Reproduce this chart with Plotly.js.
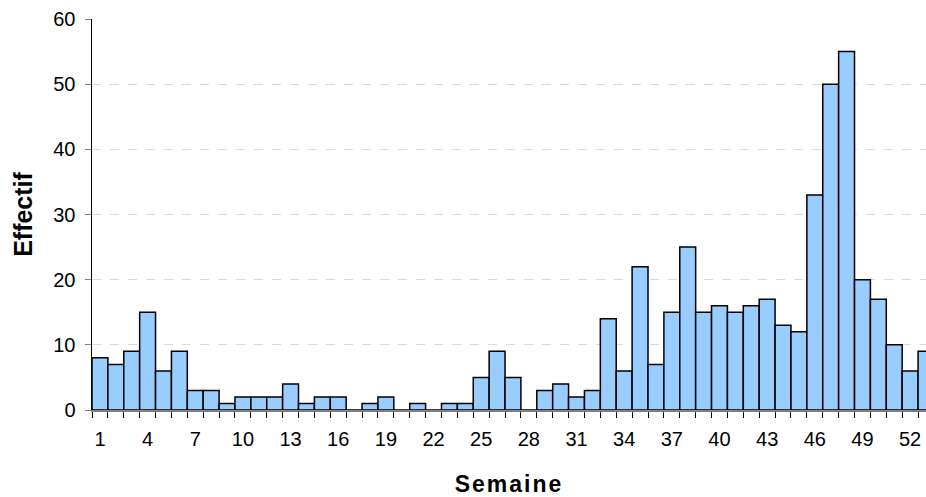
<!DOCTYPE html>
<html>
<head>
<meta charset="utf-8">
<script src="https://cdn.plot.ly/plotly-3.0.1.min.js"></script>
<style>
html,body{margin:0;padding:0;background:#fff;}
#chart{width:926px;height:497px;}
#chart .xtitle{letter-spacing:2px;}
</style>
</head>
<body>
<div id="chart"></div>
<script>
const semaines = [1,2,3,4,5,6,7,8,9,10,11,12,13,14,15,16,17,18,19,20,21,22,23,24,25,26,27,28,29,30,31,32,33,34,35,36,37,38,39,40,41,42,43,44,45,46,47,48,49,50,51,52,53];
const effectif = [8,7,9,15,6,9,3,3,1,2,2,2,4,1,2,2,0,1,2,0,1,0,1,1,5,9,5,0,3,4,2,3,14,6,22,7,15,25,15,16,15,16,17,13,12,33,50,55,20,17,10,6,9];
const xTickVals = [1,4,7,10,13,16,19,22,25,28,31,34,37,40,43,46,49,52];
const xTickText = xTickVals.map(String);
const yTickVals = [0,10,20,30,40,50,60];

const trace = {
  type: 'bar',
  x: semaines,
  y: effectif,
  marker: {color: '#99CCFF', line: {color: '#000000', width: 1.5}},
  hoverinfo: 'x+y'
};

const layout = {
  width: 926, height: 497,
  margin: {l: 92, r: 0, t: 19, b: 87},
  paper_bgcolor: '#ffffff', plot_bgcolor: '#ffffff',
  bargap: 0,
  showlegend: false,
  xaxis: {
    range: [0.5, 53.0],
    tickmode: 'array', tickvals: xTickVals, ticktext: xTickText,
    ticks: '', ticklen: 0,
    ticklabelstandoff: 10,
    minor: {tick0: 0.5, dtick: 1, ticks: 'outside', ticklen: 6, tickcolor: '#000', tickwidth: 1, showgrid: false},
    showline: true, linecolor: '#808080', linewidth: 1.5,
    showgrid: false, zeroline: false,
    tickfont: {family: 'Liberation Sans, Arial, sans-serif', size: 20, color: '#000'},
    title: {text: 'Semaine', font: {family: 'Liberation Sans, Arial, sans-serif', size: 23, color: '#000', weight: 'bold'}, standoff: 27},
    fixedrange: true
  },
  yaxis: {
    range: [0, 60],
    tickmode: 'array', tickvals: yTickVals,
    ticks: 'outside', ticklen: 6, tickcolor: '#808080', tickwidth: 1,
    ticklabelstandoff: 5,
    showline: true, linecolor: '#000', linewidth: 1.5,
    showgrid: true, gridcolor: '#d9d9d9', griddash: 'dash', gridwidth: 1,
    zeroline: false,
    tickfont: {family: 'Liberation Sans, Arial, sans-serif', size: 20, color: '#000'},
    title: {text: 'Effectif', font: {family: 'Liberation Sans, Arial, sans-serif', size: 25, color: '#000', weight: 'bold'}, standoff: 13},
    fixedrange: true
  }
};

Plotly.newPlot('chart', [trace], layout, {displayModeBar: false, staticPlot: true});
</script>
</body>
</html>
